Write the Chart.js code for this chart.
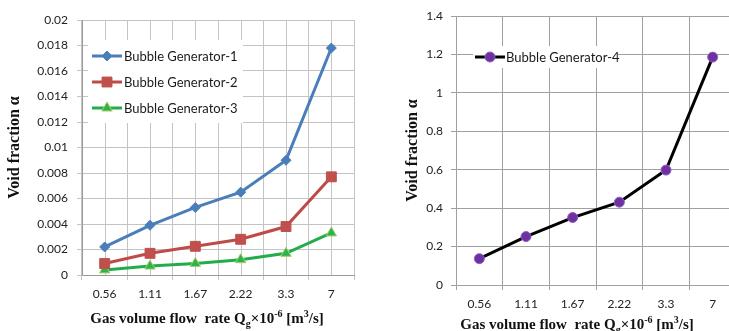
<!DOCTYPE html>
<html>
<head>
<meta charset="utf-8">
<script src="https://cdn.jsdelivr.net/npm/chart.js@4.4.1/dist/chart.umd.min.js"></script>
<style>
  html, body { margin: 0; padding: 0; background: #fff; }
  body { width: 729px; height: 331px; position: relative; overflow: hidden; }
  #wrapL { position: absolute; left: 0; top: 0; width: 380px; height: 331px; }
  #wrapR { position: absolute; left: 380px; top: 0; width: 349px; height: 331px; overflow: hidden; }
  #wrapR .inner { width: 380px; height: 331px; }
</style>
</head>
<body>
<div id="wrapL"><canvas id="cL" width="380" height="331"></canvas></div>
<div id="wrapR"><div class="inner"><canvas id="cR" width="380" height="331"></canvas></div></div>
<script>
// ---- data ----
const categories = ['0.56', '1.11', '1.67', '2.22', '3.3', '7'];
const seriesNamesLeft = ['Bubble Generator-1', 'Bubble Generator-2', 'Bubble Generator-3'];
const bg1 = [0.0022, 0.0039, 0.0053, 0.0065, 0.0090, 0.0178];
const bg2 = [0.0009, 0.0017, 0.00225, 0.0028, 0.0038, 0.0077];
const bg3 = [0.0004, 0.0007, 0.0009, 0.0012, 0.0017, 0.0033];
const seriesNameRight = 'Bubble Generator-4';
const bg4 = [0.137, 0.252, 0.351, 0.431, 0.598, 1.186];
const leftYTicks = [0, 0.002, 0.004, 0.006, 0.008, 0.01, 0.012, 0.014, 0.016, 0.018, 0.02];
const rightYTicks = [0, 0.2, 0.4, 0.6, 0.8, 1, 1.2, 1.4];
const yTitleText = 'Void fraction α';

const TICK_FONT = { family: 'Lato, "Liberation Sans", sans-serif', size: 12 };
const TITLE_FONT = { family: '"Liberation Serif", "Times New Roman", serif', size: 16, weight: 'bold' };

// plugin: extra vertical grid lines at category centres (left chart)
const centerGrid = {
  id: 'centerGrid',
  beforeDatasetsDraw(chart, args, opts) {
    if (!opts || !opts.enabled) return;
    const x = chart.scales.x, a = chart.chartArea, ctx = chart.ctx;
    ctx.save();
    ctx.strokeStyle = opts.color; ctx.lineWidth = 1;
    for (let i = 0; i < chart.data.labels.length; i++) {
      const px = Math.round(x.getPixelForValue(i)) + 0.5;
      ctx.beginPath(); ctx.moveTo(px, a.top); ctx.lineTo(px, a.bottom); ctx.stroke();
    }
    ctx.restore();
  }
};

// plugin: Excel style legend box inside the plot
const boxLegend = {
  id: 'boxLegend',
  beforeDatasetsDraw(chart, args, o) {
    if (!o || !o.box) return;
    const ctx = chart.ctx;
    ctx.save();
    ctx.fillStyle = '#fff';
    ctx.fillRect(o.box.x, o.box.y, o.box.w, o.box.h);
    chart.data.datasets.forEach((ds, i) => {
      const y = o.y0 + i * o.gap;
      ctx.strokeStyle = ds.borderColor; ctx.lineWidth = ds.borderWidth;
      ctx.beginPath(); ctx.moveTo(o.sx0, y); ctx.lineTo(o.sx1, y); ctx.stroke();
      ctx.fillStyle = ds.pointBackgroundColor; ctx.strokeStyle = ds.pointBorderColor; ctx.lineWidth = ds.pointBorderWidth;
      Chart.helpers.drawPoint(ctx, {
        pointStyle: ds.pointStyle, radius: ds.pointRadius, borderWidth: ds.pointBorderWidth, rotation: 0
      }, (o.sx0 + o.sx1) / 2, y);
      ctx.fillStyle = '#1a1a1a';
      ctx.font = '13px Lato, "Liberation Sans", sans-serif';
      ctx.textBaseline = 'middle'; ctx.textAlign = 'left';
      ctx.fillText(ds.label, o.tx, y + 1);
    });
    ctx.restore();
  }
};

// plugin: x axis title with sub/superscripts
const richXTitle = {
  id: 'richXTitle',
  afterDraw(chart, args, o) {
    if (!o || !o.parts) return;
    const ctx = chart.ctx;
    ctx.save();
    ctx.fillStyle = '#111';
    ctx.textBaseline = 'alphabetic'; ctx.textAlign = 'left';
    let total = 0;
    o.parts.forEach(p => { ctx.font = 'bold ' + p.size + 'px "Liberation Serif", serif'; total += ctx.measureText(p.t).width; });
    let x = o.cx - total / 2;
    o.parts.forEach(p => {
      ctx.font = 'bold ' + p.size + 'px "Liberation Serif", serif';
      ctx.fillText(p.t, x, o.baseline + p.dy);
      x += ctx.measureText(p.t).width;
    });
    ctx.restore();
  }
};

const titleParts = [
  { t: 'Gas volume flow  rate Q', size: 15, dy: 0 },
  { t: 'g', size: 10, dy: 4 },
  { t: '×10', size: 15, dy: 0 },
  { t: '-6', size: 10, dy: -6 },
  { t: ' [m', size: 15, dy: 0 },
  { t: '3', size: 10, dy: -6 },
  { t: '/s]', size: 15, dy: 0 }
];

function makeOptions(cfg) {
  return {
    responsive: false,
    animation: false,
    events: [],
    layout: { padding: { top: cfg.top, right: cfg.right, left: 0, bottom: 0 } },
    plugins: {
      legend: { display: false },
      tooltip: { enabled: false },
      centerGrid: { enabled: cfg.centerGrid, color: cfg.gridColor },
      boxLegend: cfg.legend,
      richXTitle: { parts: titleParts, cx: cfg.xTitleCx, baseline: cfg.xTitleBase }
    },
    scales: {
      x: {
        type: 'category',
        offset: true,
        grid: { offset: true, color: cfg.gridColor, tickLength: 5, drawTicks: true, tickColor: cfg.gridColor },
        border: { display: true, color: cfg.axisColor, width: 1 },
        ticks: { font: TICK_FONT, color: '#222', padding: cfg.xPad, maxRotation: 0, autoSkip: false },
        afterFit(s) { s.height = cfg.xHeight; }
      },
      y: {
        min: cfg.ymin, max: cfg.ymax,
        afterBuildTicks(s) { s.ticks = cfg.yTicks.map(v => ({ value: v })); },
        grid: { color: cfg.gridColor, tickLength: 5, drawTicks: true, tickColor: cfg.gridColor },
        border: { display: true, color: cfg.axisColor, width: 1 },
        ticks: { font: TICK_FONT, color: '#222', padding: cfg.yPad, callback: v => String(+v.toFixed(cfg.dec)) },
        title: { display: true, text: yTitleText, font: TITLE_FONT, color: '#111', padding: { top: cfg.yTitlePad, bottom: 0 } },
        afterFit(s) { s.width = cfg.yWidth; }
      }
    }
  };
}

new Chart(document.getElementById('cL'), {
  type: 'line',
  data: {
    labels: categories,
    datasets: [
      { label: seriesNamesLeft[0], data: bg1, borderColor: '#4a7ebb', borderWidth: 3, pointStyle: 'rectRot', pointRadius: 5,
        pointBackgroundColor: '#4a7ebb', pointBorderColor: '#4a7ebb', pointBorderWidth: 1, tension: 0 },
      { label: seriesNamesLeft[1], data: bg2, borderColor: '#be4b48', borderWidth: 3, pointStyle: 'rect', pointRadius: 7,
        pointBackgroundColor: '#c0504d', pointBorderColor: '#c0504d', pointBorderWidth: 1, tension: 0 },
      { label: seriesNamesLeft[2], data: bg3, borderColor: '#22ad4a', borderWidth: 3, pointStyle: 'triangle', pointRadius: 6,
        pointBackgroundColor: '#2eb24c', pointBorderColor: '#a3d068', pointBorderWidth: 1, tension: 0 }
    ]
  },
  options: makeOptions({
    top: 20, right: 26, xHeight: 56, yWidth: 82, xPad: 7, yPad: 9, yTitlePad: 5,
    ymin: 0, ymax: 0.02, yTicks: leftYTicks, dec: 3,
    gridColor: '#c4c4c4', axisColor: '#9a9a9a', centerGrid: true,
    legend: { box: { x: 88, y: 40, w: 155, h: 83 }, y0: 56, gap: 26, sx0: 92, sx1: 122, tx: 124 },
    xTitleCx: 207, xTitleBase: 323
  }),
  plugins: [centerGrid, boxLegend, richXTitle]
});

new Chart(document.getElementById('cR'), {
  type: 'line',
  data: {
    labels: categories,
    datasets: [
      { label: seriesNameRight, data: bg4, borderColor: '#000000', borderWidth: 3, pointStyle: 'circle', pointRadius: 5,
        pointBackgroundColor: '#7030a0', pointBorderColor: '#8a63c8', pointBorderWidth: 1, tension: 0 }
    ]
  },
  options: makeOptions({
    top: 16, right: 24, xHeight: 46, yWidth: 76, xPad: 7, yPad: 8, yTitlePad: 23,
    ymin: 0, ymax: 1.4, yTicks: rightYTicks, dec: 1,
    gridColor: '#a0a0a0', axisColor: '#a0a0a0', centerGrid: false,
    legend: { box: { x: 93, y: 46, w: 145, h: 22 }, y0: 57, gap: 26, sx0: 95, sx1: 125, tx: 126 },
    xTitleCx: 197, xTitleBase: 329
  }),
  plugins: [centerGrid, boxLegend, richXTitle]
});
</script>
</body>
</html>
